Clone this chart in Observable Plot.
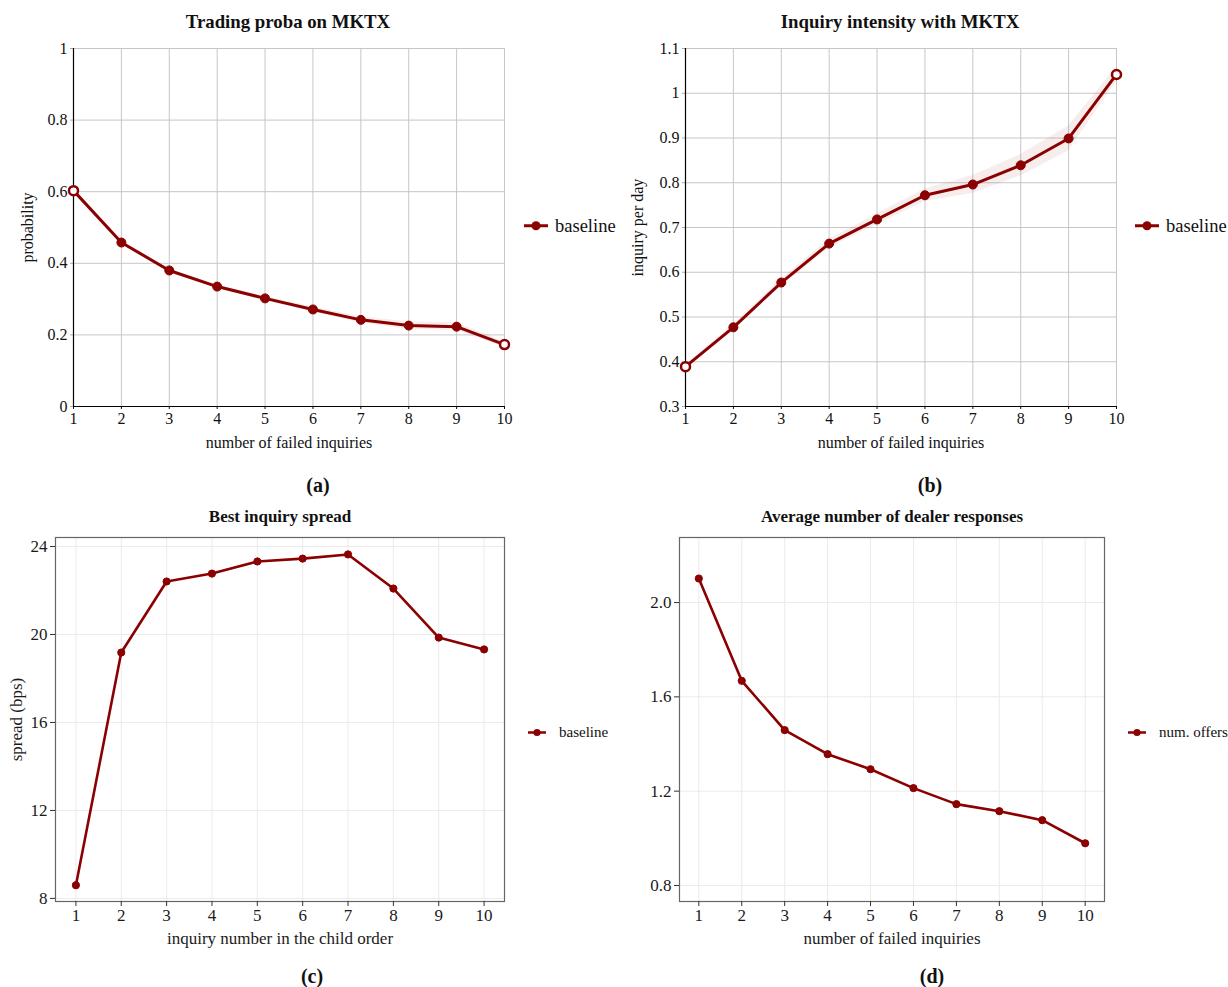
<!DOCTYPE html>
<html>
<head>
<meta charset="utf-8">
<script src="https://cdn.jsdelivr.net/npm/d3@7"></script>
<script src="https://cdn.jsdelivr.net/npm/@observablehq/plot@0.6"></script>
<style>
  html, body { margin: 0; padding: 0; background: #fff; }
  #page { position: relative; width: 1228px; height: 987px; overflow: hidden; background: #fff;
          font-family: "Liberation Serif", "Times New Roman", serif; color: #111; }
  .abs { position: absolute; white-space: nowrap; line-height: 1; }
  .center { transform: translate(-50%, -50%); }
  .title { font-weight: bold; }
  .caption { font-weight: bold; }
  .legend { display: flex; align-items: center; transform: translateY(-50%); }
  .legend svg { display: block; }
</style>
</head>
<body>
<div id="page"></div>
<script>
// ---------------- data ----------------
const failedInquiries = [1, 2, 3, 4, 5, 6, 7, 8, 9, 10];
const tradingProba = [0.603, 0.458, 0.380, 0.335, 0.302, 0.271, 0.242, 0.226, 0.223, 0.173];
const tradingProbaHalfBand = [0.003, 0.004, 0.004, 0.005, 0.006, 0.007, 0.009, 0.011, 0.011, 0.008];
const inquiryIntensity = [0.389, 0.477, 0.577, 0.664, 0.718, 0.772, 0.796, 0.839, 0.899, 1.042];
const inquiryIntensityHalfBand = [0.004, 0.006, 0.008, 0.010, 0.012, 0.014, 0.020, 0.024, 0.028, 0.016];
const inquiryNumber = [1, 2, 3, 4, 5, 6, 7, 8, 9, 10];
const bestSpread = [8.6, 19.18, 22.41, 22.77, 23.32, 23.45, 23.64, 22.09, 19.86, 19.32];
const dealerResponses = [2.102, 1.668, 1.459, 1.357, 1.293, 1.213, 1.145, 1.115, 1.077, 0.979];

const probaTicks = [0, 0.2, 0.4, 0.6, 0.8, 1];
const intensityTicks = [0.3, 0.4, 0.5, 0.6, 0.7, 0.8, 0.9, 1, 1.1];
const spreadTicks = [8, 12, 16, 20, 24];
const responseTicks = [0.8, 1.2, 1.6, 2.0];

const titles = ["Trading proba on MKTX", "Inquiry intensity with MKTX", "Best inquiry spread", "Average number of dealer responses"];
const captions = ["(a)", "(b)", "(c)", "(d)"];
const legendLabels = ["baseline", "baseline", "baseline", "num. offers"];

// ---------------- styling ----------------
const RED = "#8b0000";
const SERIF = "'Liberation Serif', 'Times New Roman', serif";
const page = document.getElementById("page");

function addText(txt, x, y, cls, size) {
  const d = document.createElement("div");
  d.className = "abs center " + cls;
  d.style.left = x + "px";
  d.style.top = y + "px";
  d.style.fontSize = size + "px";
  d.textContent = txt;
  page.appendChild(d);
}
function addLegend(txt, x, y, size, lineW, sw, r) {
  const d = document.createElement("div");
  d.className = "abs legend";
  d.style.left = x + "px";
  d.style.top = y + "px";
  d.style.fontSize = size + "px";
  const w = lineW + 2;
  d.innerHTML = `<svg width="${w}" height="14"><line x1="1" x2="${lineW + 1}" y1="7" y2="7" stroke="${RED}" stroke-width="${sw}"/><circle cx="${w / 2}" cy="7" r="${r}" fill="${RED}"/></svg><span style="margin-left:${size > 16 ? 6 : 12}px">${txt}</span>`;
  page.appendChild(d);
}
function place(svg, left, top) {
  const wrap = document.createElement("div");
  wrap.className = "abs";
  wrap.style.left = left + "px";
  wrap.style.top = top + "px";
  wrap.appendChild(svg);
  page.appendChild(wrap);
}

const rows = (xs, ys, half) => xs.map((x, i) => ({
  x, y: ys[i],
  lo: half ? ys[i] - half[i] : null,
  hi: half ? ys[i] + half[i] : null,
  end: i === 0 || i === xs.length - 1
}));

// Panels (a) and (b): gray grid, black left/bottom axes, shaded band
function topPanel({data, yDomain, yTicks, yLabel, marginLeft, yLabelOffset}) {
  return Plot.plot({
    width: 520, height: 420,
    marginLeft, marginRight: 520 - marginLeft - 431, marginTop: 8, marginBottom: 54,
    style: {fontFamily: SERIF, fontSize: "16px", color: "#111", background: "transparent", overflow: "visible"},
    x: {domain: [1, 10]},
    y: {domain: yDomain},
    marks: [
      Plot.gridX(failedInquiries, {stroke: "#c6c6c6", strokeOpacity: 1, strokeWidth: 1}),
      Plot.gridY(yTicks, {stroke: "#c6c6c6", strokeOpacity: 1, strokeWidth: 1}),
      Plot.axisX(failedInquiries, {tickSize: 3, tickPadding: 3, tickFormat: d => String(d), fontSize: 16,
        label: "number of failed inquiries", labelAnchor: "center", labelArrow: "none", labelOffset: 41}),
      Plot.axisY(yTicks, {tickSize: 3, tickPadding: 3, stroke: "#aaa", tickFormat: d => String(d), fontSize: 16,
        label: yLabel, labelAnchor: "center", labelArrow: "none", labelOffset: yLabelOffset}),
      Plot.ruleX([yDomain[0]], {x: () => 1, y1: yDomain[0], y2: yDomain[1], stroke: "#000", strokeWidth: 1.2}),
      Plot.ruleY([yDomain[0]], {x1: 1, x2: 10, stroke: "#000", strokeWidth: 1.2}),
      Plot.areaY(data, {x: "x", y1: "lo", y2: "hi", fill: RED, fillOpacity: 0.07}),
      Plot.lineY(data, {x: "x", y: "y", stroke: RED, strokeWidth: 3}),
      Plot.dot(data, {x: "x", y: "y", filter: d => !d.end, r: 4.5, fill: RED, stroke: RED, strokeWidth: 1}),
      Plot.dot(data, {x: "x", y: "y", filter: d => d.end, r: 4.5, fill: "white", stroke: RED, strokeWidth: 2.5})
    ]
  });
}

// Panels (c) and (d): ggplot-like theme
function bottomPanel({data, yDomain, yTicks, yLabel, xLabel, marginLeft, marginRight, tickFormat}) {
  return Plot.plot({
    width: 520, height: 430,
    marginLeft, marginRight, marginTop: 7, marginBottom: 59,
    style: {fontFamily: SERIF, fontSize: "17px", color: "#1a1a1a", background: "transparent", overflow: "visible"},
    x: {domain: [0.55, 10.45]},
    y: {domain: yDomain},
    marks: [
      Plot.gridX(failedInquiries, {stroke: "#ebebeb", strokeOpacity: 1, strokeWidth: 1}),
      Plot.gridY(yTicks, {stroke: "#ebebeb", strokeOpacity: 1, strokeWidth: 1}),
      Plot.frame({stroke: "#666", strokeWidth: 1.2}),
      Plot.axisX(failedInquiries, {tickSize: 5, tickPadding: 2, stroke: "#333", tickFormat: d => String(d), fontSize: 17,
        label: xLabel, labelAnchor: "center", labelArrow: "none", labelOffset: 42}),
      Plot.axisY(yTicks, {tickSize: 5, tickPadding: 3, stroke: "#333", tickFormat, fontSize: 17,
        label: yLabel, labelAnchor: "center", labelArrow: "none", labelOffset: 46}),
      Plot.lineY(data, {x: "x", y: "y", stroke: RED, strokeWidth: 2.6}),
      Plot.dot(data, {x: "x", y: "y", r: 3.6, fill: RED, stroke: RED, strokeWidth: 1})
    ]
  });
}

// ---------------- build ----------------
place(topPanel({
  data: rows(failedInquiries, tradingProba, tradingProbaHalfBand),
  yDomain: [0, 1], yTicks: probaTicks, yLabel: "probability", marginLeft: 73, yLabelOffset: 52
}), 0, 40);

place(topPanel({
  data: rows(failedInquiries, inquiryIntensity, inquiryIntensityHalfBand),
  yDomain: [0.3, 1.1], yTicks: intensityTicks, yLabel: "inquiry per day", marginLeft: 75, yLabelOffset: 54
}), 610, 40);

place(bottomPanel({
  data: rows(inquiryNumber, bestSpread, null),
  yDomain: [7.86, 24.41], yTicks: spreadTicks, yLabel: "spread (bps)",
  xLabel: "inquiry number in the child order", marginLeft: 55, marginRight: 16, tickFormat: d => String(d)
}), 0, 530);

place(bottomPanel({
  data: rows(failedInquiries, dealerResponses, null),
  yDomain: [0.732, 2.276], yTicks: responseTicks, yLabel: null,
  xLabel: "number of failed inquiries", marginLeft: 69, marginRight: 26, tickFormat: d3.format(".1f")
}), 610, 530);

// titles
addText(titles[0], 288, 22, "title", 18.8);
addText(titles[1], 900, 22, "title", 18.8);
addText(titles[2], 280, 516, "title", 17);
addText(titles[3], 892, 516, "title", 17);
// captions
addText(captions[0], 318, 485, "caption", 20);
addText(captions[1], 930, 485, "caption", 20);
addText(captions[2], 312, 976, "caption", 20);
addText(captions[3], 932, 976, "caption", 20);
// legends
addLegend(legendLabels[0], 523, 226, 18.5, 24, 3, 4.5);
addLegend(legendLabels[1], 1134, 226, 18.5, 24, 3, 4.5);
addLegend(legendLabels[2], 527, 732, 15, 18, 2.6, 3.6);
addLegend(legendLabels[3], 1127, 732, 15, 18, 2.6, 3.6);
</script>
</body>
</html>
